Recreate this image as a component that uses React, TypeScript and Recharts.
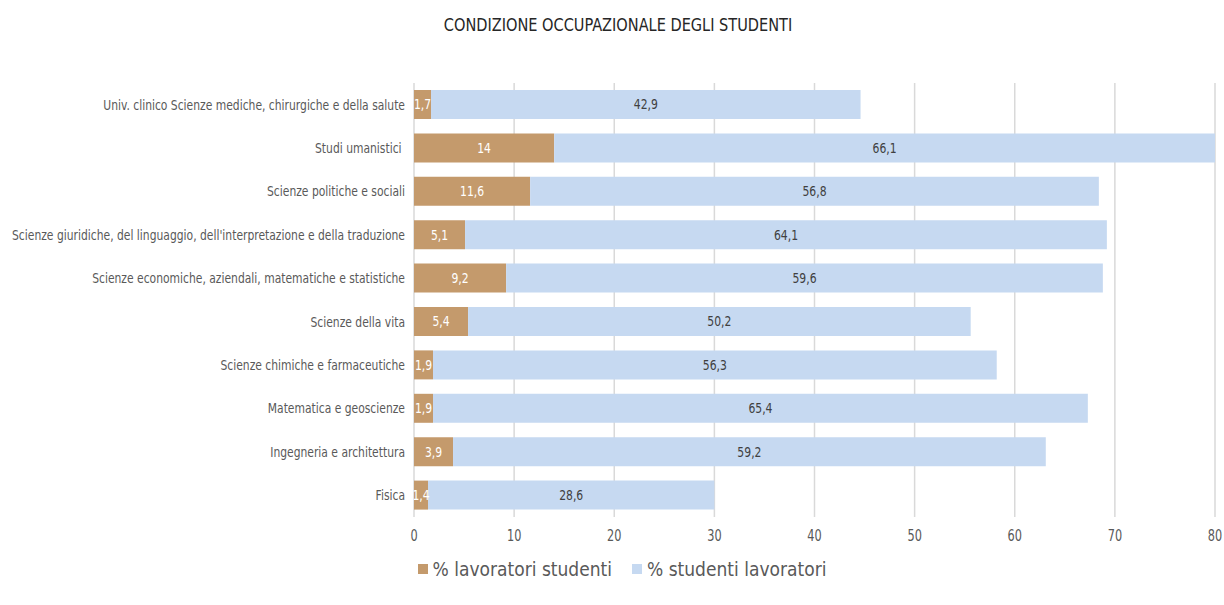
import React from 'react';
import { BarChart, Bar, XAxis, YAxis, CartesianGrid, LabelList } from 'recharts';

const categories = [
  'Univ. clinico Scienze mediche, chirurgiche e della salute',
  'Studi umanistici ',
  'Scienze politiche e sociali',
  "Scienze giuridiche, del linguaggio, dell'interpretazione e della traduzione",
  'Scienze economiche, aziendali, matematiche e statistiche',
  'Scienze della vita',
  'Scienze chimiche e farmaceutiche',
  'Matematica e geoscienze',
  'Ingegneria e architettura',
  'Fisica',
];
const lavoratoriStudenti = [1.7, 14, 11.6, 5.1, 9.2, 5.4, 1.9, 1.9, 3.9, 1.4];
const studentiLavoratori = [42.9, 66.1, 56.8, 64.1, 59.6, 50.2, 56.3, 65.4, 59.2, 28.6];
const xTicks = [0, 10, 20, 30, 40, 50, 60, 70, 80];

const FONT = '"DejaVu Sans Condensed", "DejaVu Sans", sans-serif';
const TAN = '#C49A6C';
const BLUE = '#C6D9F1';

const data = categories.map((name, i) => ({
  name,
  ls: lavoratoriStudenti[i],
  sl: studentiLavoratori[i],
}));

const fmt = (v: any) => String(v).replace('.', ',');

// narrow tick text, the original uses a condensed face
const CategoryTick = (props: any) => {
  const { x, y, payload } = props;
  return (
    <g transform={`translate(${x - 1},${y}) scale(0.855,1)`}>
      <text x={0} y={0} dy="0.355em" textAnchor="end" fill="#595959" fontSize={14} fontFamily={FONT} style={{ whiteSpace: 'pre' }}>
        {payload.value}
      </text>
    </g>
  );
};

const NumTick = (props: any) => {
  const { x, y, payload } = props;
  return (
    <g transform={`translate(${x},${y + 5}) scale(0.84,1)`}>
      <text x={0} y={0} dy="0.71em" textAnchor="middle" fill="#595959" fontSize={15} fontFamily={FONT}>
        {payload.value}
      </text>
    </g>
  );
};

const ValueLabel = (color: string) => (props: any) => {
  const { x, y, width, height, value } = props;
  return (
    <g transform={`translate(${x + width / 2},${y + height / 2}) scale(0.86,1)`}>
      <text x={0} y={0} dy="0.355em" textAnchor="middle" fill={color} fontSize={14} fontFamily={FONT}>
        {fmt(value)}
      </text>
    </g>
  );
};

export default function App() {
  return (
    <div style={{ position: 'absolute', left: 0, top: 0, width: 1224, height: 605, background: '#fff', fontFamily: FONT }}>
      <div style={{ position: 'absolute', top: 15, left: 6, width: 1224, textAlign: 'center', fontSize: 17, color: '#262626', transform: 'scaleX(0.95)' }}>
        CONDIZIONE OCCUPAZIONALE DEGLI STUDENTI
      </div>
      <BarChart
        width={1224}
        height={605}
        data={data}
        layout="vertical"
        margin={{ top: 83, right: 9, bottom: 58, left: 0 }}
        barSize={29}
      >
        <CartesianGrid horizontal={false} stroke="#D9D9D9" strokeWidth={1.5} />
        <XAxis
          type="number"
          domain={[0, 80]}
          ticks={xTicks}
          allowDataOverflow
          axisLine={false}
          tickLine={false}
          height={30}
          tick={<NumTick />}
        />
        <YAxis
          type="category"
          dataKey="name"
          width={414}
          axisLine={false}
          tickLine={false}
          interval={0}
          tick={<CategoryTick />}
        />
        <Bar dataKey="ls" stackId="a" fill={TAN} isAnimationActive={false}>
          <LabelList dataKey="ls" content={ValueLabel('#ffffff')} />
        </Bar>
        <Bar dataKey="sl" stackId="a" fill={BLUE} isAnimationActive={false}>
          <LabelList dataKey="sl" content={ValueLabel('#404040')} />
        </Bar>
      </BarChart>
      <div style={{ position: 'absolute', top: 558, left: 10, width: 1224, display: 'flex', justifyContent: 'center', gap: 20, fontSize: 19, color: '#595959', letterSpacing: 0 }}>
        <span style={{ display: 'flex', alignItems: 'center' }}>
          <span style={{ width: 10, height: 10, background: TAN, marginRight: 5, display: 'inline-block' }} />
          % lavoratori studenti
        </span>
        <span style={{ display: 'flex', alignItems: 'center' }}>
          <span style={{ width: 10, height: 10, background: BLUE, marginRight: 5, display: 'inline-block' }} />
          % studenti lavoratori
        </span>
      </div>
    </div>
  );
}
